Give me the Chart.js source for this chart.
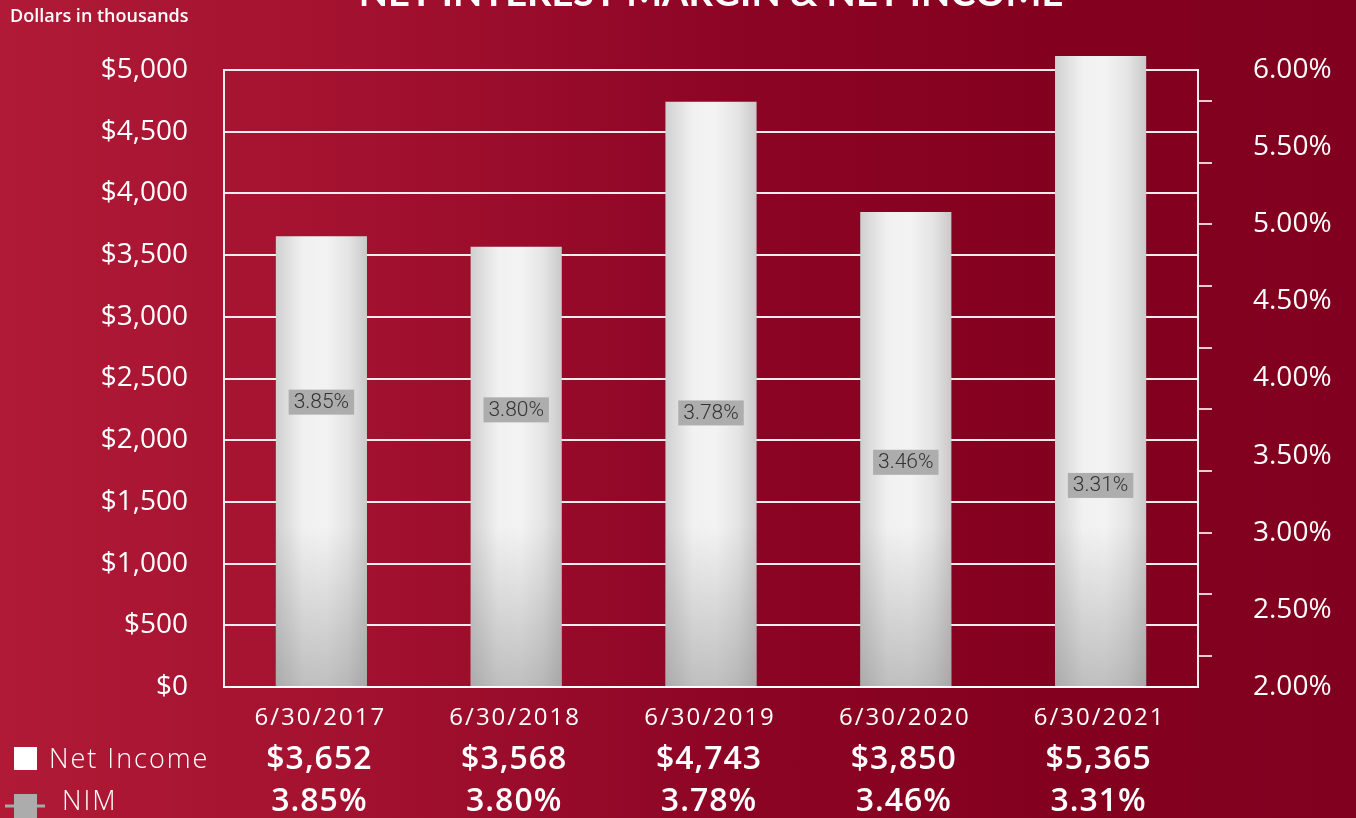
<!DOCTYPE html>
<html>
<head>
<meta charset="utf-8">
<script src="https://cdn.jsdelivr.net/npm/chart.js@4"></script>
<style>
  html, body { margin: 0; padding: 0; }
  body {
    width: 1356px; height: 818px; overflow: hidden;
    background: linear-gradient(90deg, #b01a36 0%, #a0102e 30%, #8c0424 55%, #83001f 80%, #82001f 100%);
  }
  canvas { display: block; }
</style>
</head>
<body>
<canvas id="nim-chart" width="1356" height="818"></canvas>
<script>
// data
const categories = ["6/30/2017", "6/30/2018", "6/30/2019", "6/30/2020", "6/30/2021"];
const netIncome = [3652, 3568, 4743, 3850, 5365];
const nim = [3.85, 3.80, 3.78, 3.46, 3.31];
const dollarTicks = [0, 500, 1000, 1500, 2000, 2500, 3000, 3500, 4000, 4500, 5000];
const pctTickLabels = [2.0, 2.5, 3.0, 3.5, 4.0, 4.5, 5.0, 5.5, 6.0];
const pctTickMarks = [2.2, 2.6, 3.0, 3.4, 3.8, 4.2, 4.6, 5.0, 5.4, 5.8];

const title = "NET INTEREST MARGIN & NET INCOME";
const WHITE = "rgba(255,255,255,0.92)";

Chart.defaults.font.family = "'Open Sans'";
Chart.defaults.color = "#ffffff";

function inList(list, v) {
  return list.some((t) => Math.abs(t - v) < 0.001);
}

function fmtDollar(v) {
  return "$" + v.toLocaleString("en-US");
}

// bar fill: light gray edges, near-white middle
function barFill(ctx) {
  const chart = ctx.chart;
  if (!chart.chartArea) return "#eeeeee";
  const xs = chart.scales.x;
  const cx = xs.getPixelForValue(ctx.dataIndex);
  const half = (xs.width / categories.length) * 0.9 * 0.52 / 2;
  const g = chart.ctx.createLinearGradient(cx - half, 0, cx + half, 0);
  g.addColorStop(0, "#d0d0d0");
  g.addColorStop(0.3, "#f1f1f1");
  g.addColorStop(0.55, "#f3f3f3");
  g.addColorStop(0.8, "#e4e4e4");
  g.addColorStop(1, "#c9c9c9");
  return g;
}

// darker shading towards the foot of each bar
const barShade = {
  id: "barShade",
  afterDatasetsDraw(chart) {
    const c = chart.ctx;
    const meta = chart.getDatasetMeta(0);
    meta.data.forEach((bar) => {
      const top = Math.max(bar.y, bar.base - 160);
      const g = c.createLinearGradient(0, bar.base - 160, 0, bar.base);
      g.addColorStop(0, "rgba(120,120,120,0)");
      g.addColorStop(1, "rgba(120,120,120,0.42)");
      c.save();
      c.fillStyle = g;
      c.fillRect(bar.x - bar.width / 2, top, bar.width, bar.base - top);
      c.restore();
    });
  },
};

// NIM value boxes sitting on the (hidden) NIM line
const nimBoxes = {
  id: "nimBoxes",
  afterDatasetsDraw(chart) {
    const c = chart.ctx;
    const meta = chart.getDatasetMeta(1);
    c.save();
    c.font = "300 21px Roboto";
    c.textAlign = "center";
    c.textBaseline = "middle";
    meta.data.forEach((pt, i) => {
      const txt = nim[i].toFixed(2) + "%";
      const w = c.measureText(txt).width + 10;
      c.fillStyle = "#adadad";
      c.fillRect(pt.x - w / 2, pt.y - 12, w, 25);
      c.fillStyle = "#333333";
      c.fillText(txt, pt.x, pt.y + 1);
    });
    c.restore();
  },
};

// title, units note, dates and the data table under the chart
const extras = {
  id: "extras",
  afterDraw(chart) {
    const c = chart.ctx;
    const area = chart.chartArea;
    const xs = chart.scales.x;
    c.save();
    c.fillStyle = "#ffffff";

    c.font = "bold 38px Lato";
    c.textAlign = "center";
    c.textBaseline = "alphabetic";
    c.fillText(title, (area.left + area.right) / 2, 6);

    c.font = "600 18px 'Open Sans'";
    c.textAlign = "left";
    c.textBaseline = "middle";
    c.fillText("Dollars in thousands", 10, 17);

    // legend keys
    c.fillRect(14, 747, 23, 23);
    c.font = "300 27px 'Open Sans'";
    c.letterSpacing = "2px";
    c.fillText("Net Income", 49, 760);

    c.strokeStyle = "#a9a9a9";
    c.lineWidth = 3;
    c.beginPath();
    c.moveTo(5, 806);
    c.lineTo(45, 806);
    c.stroke();
    c.fillStyle = "#acacac";
    c.fillRect(14, 794, 23, 24);
    c.fillStyle = "#ffffff";
    c.fillText("NIM", 62, 802);

    // date row and values rows
    c.textAlign = "center";
    categories.forEach((cat, i) => {
      const x = xs.getPixelForValue(i);
      c.font = "24px 'Open Sans'";
      c.letterSpacing = "2px";
      c.fillText(cat, x - 1, 718);
      c.font = "600 32px 'Open Sans'";
      c.letterSpacing = "1px";
      c.fillText(fmtDollar(netIncome[i]), x - 2, 760);
      c.fillText(nim[i].toFixed(2) + "%", x - 2, 802);
    });
    c.restore();
  },
};

new Chart(document.getElementById("nim-chart").getContext("2d"), {
  data: {
    labels: categories,
    datasets: [
      {
        type: "bar",
        label: "Net Income",
        data: netIncome,
        yAxisID: "y",
        backgroundColor: barFill,
        borderWidth: 0,
        barPercentage: 0.52,
        categoryPercentage: 0.9,
        clip: { left: 0, top: 14, right: 0, bottom: 4 },
        order: 2,
      },
      {
        type: "line",
        label: "NIM",
        data: nim,
        yAxisID: "y1",
        showLine: false,
        pointRadius: 0,
        borderColor: "#a9a9a9",
        order: 1,
      },
    ],
  },
  options: {
    responsive: false,
    animation: false,
    layout: { padding: { top: 70, left: 0, right: 0, bottom: 0 } },
    plugins: {
      legend: { display: false },
      tooltip: { enabled: false },
    },
    scales: {
      x: {
        grid: { display: false, drawTicks: false },
        border: { display: true, color: WHITE, width: 2 },
        ticks: { display: false },
        afterFit: (s) => { s.height = 131; },
      },
      y: {
        position: "left",
        min: 0,
        max: 5000,
        afterBuildTicks: (s) => { s.ticks = dollarTicks.map((v) => ({ value: v })); },
        grid: { color: WHITE, lineWidth: 2, drawTicks: false },
        border: { display: true, color: WHITE, width: 2 },
        ticks: {
          padding: 36,
          color: "#ffffff",
          font: { size: 28, weight: "500" },
          callback: (v) => fmtDollar(v),
        },
        afterFit: (s) => { s.width = 224; },
      },
      y1: {
        position: "right",
        min: 2,
        max: 6,
        afterBuildTicks: (s) => {
          const vals = pctTickLabels.concat(pctTickMarks.filter((v) => !inList(pctTickLabels, v)));
          vals.sort((a, b) => a - b);
          s.ticks = vals.map((v) => ({ value: v }));
        },
        grid: {
          drawOnChartArea: false,
          drawTicks: true,
          tickLength: 14,
          lineWidth: 2,
          tickColor: (ctx) => (ctx.tick && inList(pctTickMarks, ctx.tick.value) ? "rgba(255,255,255,0.8)" : "rgba(0,0,0,0)"),
        },
        border: { display: true, color: WHITE, width: 2 },
        ticks: {
          padding: 41,
          autoSkip: false,
          color: "#ffffff",
          font: { size: 28, weight: "500" },
          callback: (v) => (inList(pctTickLabels, v) ? v.toFixed(2) + "%" : ""),
        },
        afterFit: (s) => { s.width = 158; },
      },
    },
  },
  plugins: [barShade, nimBoxes, extras],
});
</script>
</body>
</html>
